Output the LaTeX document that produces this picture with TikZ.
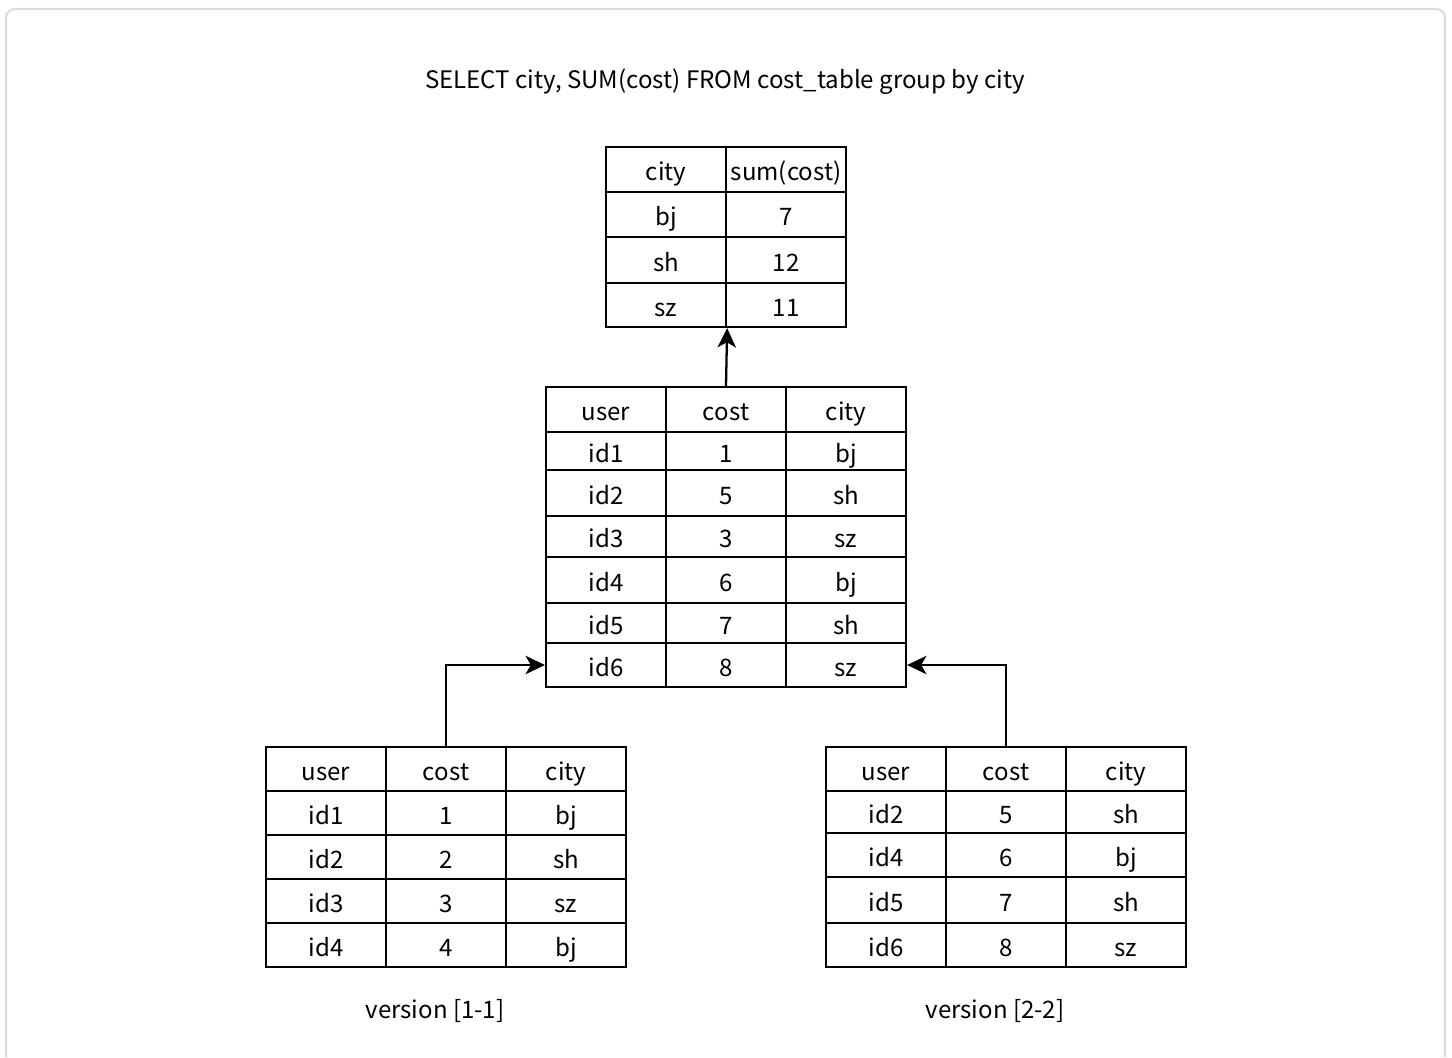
\documentclass[tikz,border=0pt]{standalone}
\usepackage{fontspec}
\setmainfont{Noto Sans CJK SC}
\usetikzlibrary{arrows.meta}
\definecolor{framegray}{HTML}{DCDCE0}

\begin{document}
\begin{tikzpicture}[
x=0.02cm, y=-0.02cm,
every node/.style={font=\fontsize{13.7}{16}\selectfont},
cell/.style={
draw,
line width=1.3pt,
minimum width=2.4cm,
inner sep=0pt,
text height=14pt,
text depth=1pt
},
arrow/.style={-{Stealth[length=11pt,width=10.5pt,inset=3pt]}, line width=1.3pt}
]
\useasboundingbox (0,0) rectangle (1452,1057);
\draw[framegray, line width=1.2pt, rounded corners=5pt]
(6,1057) -- (6,9) -- (1445,9) -- (1445,1057);

\node (query) at (725,82)
{SELECT city, SUM(cost) FROM cost\_table group by city};

% result table
\foreach \y/\h/\a/\b [count=\r] in {169.5/45/city/sum(cost), 214.5/45/bj/7,
260/46/sh/12, 305/44/sz/11}{
\node[cell, minimum height=\h*0.02cm] (res-\r-1) at (666,\y) {\a};
\node[cell, minimum height=\h*0.02cm] (res-\r-2) at (786,\y) {\b};
}

% merged table
\foreach \y/\h/\a/\b/\c [count=\r] in {409.5/45/user/cost/city, 451/38/id1/1/bj,
493/46/id2/5/sh, 536.5/41/id3/3/sz, 580/46/id4/6/bj, 623/40/id5/7/sh,
665/44/id6/8/sz}{
\node[cell, minimum height=\h*0.02cm] (mid-\r-1) at (606,\y) {\a};
\node[cell, minimum height=\h*0.02cm] (mid-\r-2) at (726,\y) {\b};
\node[cell, minimum height=\h*0.02cm] (mid-\r-3) at (846,\y) {\c};
}

% version [1-1]
\foreach \y/\h/\a/\b/\c [count=\r] in {769/44/user/cost/city, 813/44/id1/1/bj,
857/44/id2/2/sh, 901/44/id3/3/sz, 945/44/id4/4/bj}{
\node[cell, minimum height=\h*0.02cm] (v1-\r-1) at (326,\y) {\a};
\node[cell, minimum height=\h*0.02cm] (v1-\r-2) at (446,\y) {\b};
\node[cell, minimum height=\h*0.02cm] (v1-\r-3) at (566,\y) {\c};
}

% version [2-2]
\foreach \y/\h/\a/\b/\c [count=\r] in {769/44/user/cost/city, 812/42/id2/5/sh,
855/44/id4/6/bj, 900/46/id5/7/sh, 945/44/id6/8/sz}{
\node[cell, minimum height=\h*0.02cm] (v2-\r-1) at (886,\y) {\a};
\node[cell, minimum height=\h*0.02cm] (v2-\r-2) at (1006,\y) {\b};
\node[cell, minimum height=\h*0.02cm] (v2-\r-3) at (1126,\y) {\c};
}

\node (v1label) at (435,1011) {version [1-1]};
\node (v2label) at (995,1011) {version [2-2]};

\draw[arrow] (mid-1-2.north) -- (res-4-1.south east);
\draw[arrow] (v1-1-2.north) |- (mid-7-1.west);
\draw[arrow] (v2-1-2.north) |- (mid-7-3.east);
\end{tikzpicture}
\end{document}
